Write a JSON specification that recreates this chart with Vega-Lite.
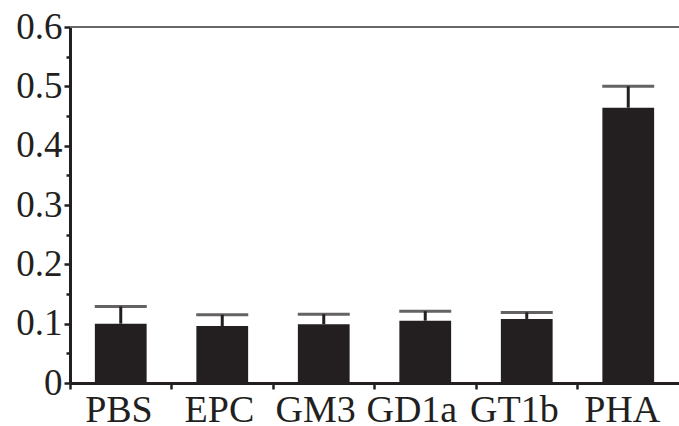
{
  "$schema": "https://vega.github.io/schema/vega-lite/v6.json",
  "width": 609,
  "height": 356,
  "autosize": {"type": "none"},
  "padding": {"left": 70, "top": 27, "right": 0, "bottom": 43},
  "background": "white",
  "config": {
    "view": {"stroke": null},
    "font": "Liberation Serif",
    "axis": {"labelFont": "Liberation Serif", "labelColor": "#231f20", "domainColor": "#231f20", "tickColor": "#231f20", "grid": false, "title": null}
  },
  "data": {"values": [
    {"group": "PBS", "mean": 0.100, "upper": 0.129},
    {"group": "EPC", "mean": 0.096, "upper": 0.115},
    {"group": "GM3", "mean": 0.099, "upper": 0.116},
    {"group": "GD1a", "mean": 0.105, "upper": 0.121},
    {"group": "GT1b", "mean": 0.108, "upper": 0.119},
    {"group": "PHA", "mean": 0.464, "upper": 0.500}
  ]},
  "resolve": {"axis": {"y": "independent"}},
  "layer": [
    {
      "mark": {"type": "rule", "color": "#666", "strokeWidth": 1},
      "encoding": {"y": {"datum": 0.6, "scale": {"domain": [0, 0.6]}, "axis": null}}
    },
    {
      "mark": {"type": "rule", "color": "#231f20", "strokeWidth": 3},
      "encoding": {
        "x": {"field": "group", "type": "nominal", "sort": null},
        "y": {"field": "mean", "type": "quantitative", "axis": null},
        "y2": {"field": "upper"}
      }
    },
    {
      "mark": {"type": "tick", "color": "#231f20", "size": 52, "thickness": 3, "orient": "horizontal"},
      "encoding": {
        "x": {"field": "group", "type": "nominal", "sort": null},
        "y": {"field": "upper", "type": "quantitative", "axis": {"orient": "left", "values": [0.05, 0.15, 0.25, 0.35, 0.45, 0.55], "labels": false, "domain": false, "tickSize": 4, "tickWidth": 2.5}}
      }
    },
    {
      "mark": {"type": "bar", "color": "#231f20", "width": {"band": 0.51}},
      "encoding": {
        "x": {"field": "group", "type": "nominal", "sort": null,
          "scale": {"paddingInner": 0, "paddingOuter": 0},
          "axis": {"labelAngle": 0, "labelFontSize": 38, "bandPosition": 0, "labelOffset": 32, "tickSize": 6, "tickWidth": 2.5, "domainWidth": 3, "labelBaseline": "alphabetic", "labelPadding": 32}},
        "y": {"field": "mean", "type": "quantitative",
          "scale": {"domain": [0, 0.6], "nice": false},
          "axis": {"orient": "left", "values": [0, 0.1, 0.2, 0.3, 0.4, 0.5, 0.6], "format": ".1~f", "labelFontSize": 37, "tickSize": 6, "tickWidth": 2.5, "domainWidth": 3, "labelPadding": 2}}
      }
    }
  ]
}
